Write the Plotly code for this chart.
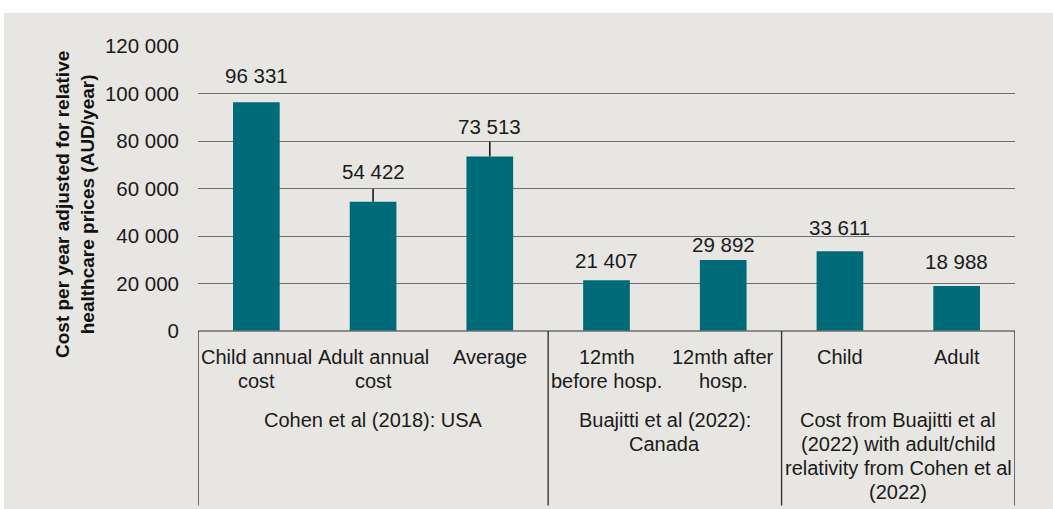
import plotly.graph_objects as go

# ---- data ----
categories = ["Child annual<br>cost", "Adult annual<br>cost", "Average",
              "12mth<br>before hosp.", "12mth after<br>hosp.", "Child", "Adult"]
values = [96331, 54422, 73513, 21407, 29892, 33611, 18988]
leader_extra = [0, 5400, 6200, 0, 0, 0, 0]
groups = ["Cohen et al (2018): USA",
          "Buajitti et al (2022):<br>Canada",
          "Cost from Buajitti et al<br>(2022) with adult/child<br>relativity from Cohen et al<br>(2022)"]
group_span = [(0, 2), (3, 4), (5, 6)]
y_ticks = [0, 20000, 40000, 60000, 80000, 100000, 120000]
label_lift = [27, 30, 30, 20, 16, 24, 24]

# ---- layout geometry (pixels) ----
W, H = 1053, 509
L, R, T, B = 198, 1015, 46, 331
BG = "#E8E6E2"
BAR = "#006B78"
GRID = "#6E6E6A"
FONT = "Liberation Sans, Arial, sans-serif"
TXT = "#1a1a1a"
LINE_H = 24

def px2py(py):
    return (B - py) / (B - T)

def px2px(px):
    return (px - L) / (R - L)

idx = list(range(len(categories)))

fig = go.Figure()
fig.add_trace(go.Bar(
    x=idx, y=values, width=0.4,
    marker=dict(color=BAR, line=dict(width=0)),
    error_y=dict(type="data", array=leader_extra, symmetric=False, arrayminus=[0] * 7,
                 color=TXT, thickness=1.6, width=0),
    hoverinfo="skip",
))

annotations = []
# data labels
for i, v in enumerate(values):
    annotations.append(dict(
        x=i, y=v, xref="x", yref="y", text=f"{v:,}".replace(",", " "),
        showarrow=False, yanchor="middle", yshift=label_lift[i],
        font=dict(family=FONT, size=20.5, color=TXT)))

def add_lines(xc, text, first_center_px):
    for k, line in enumerate(text.split("<br>")):
        annotations.append(dict(
            x=xc, y=px2py(first_center_px + k * LINE_H), xref="x", yref="paper",
            text=line, showarrow=False, yanchor="middle", xanchor="center",
            font=dict(family=FONT, size=20, color=TXT)))

# category labels
for i, c in enumerate(categories):
    add_lines(i, c, 357)
# group labels
for g, (a, b) in zip(groups, group_span):
    add_lines((a + b) / 2, g, 420)

# y-axis title
annotations.append(dict(
    x=px2px(75), y=px2py(205), xref="paper", yref="paper",
    text="<b>Cost per year adjusted for relative<br>healthcare prices (AUD/year)</b>",
    showarrow=False, textangle=-90, xanchor="center", yanchor="middle", align="center",
    font=dict(family=FONT, size=19, color="#111111")))

shapes = [
    # gray background panel
    dict(type="rect", xref="paper", yref="paper", x0=px2px(4), x1=px2px(W + 5),
         y0=px2py(H + 5), y1=px2py(13), fillcolor=BG, line=dict(width=0), layer="below"),
    # x axis line
    dict(type="line", xref="paper", yref="paper", x0=0, x1=1, y0=0, y1=0,
         line=dict(color=GRID, width=1.5)),
]
for xd in [-0.5, 2.5, 4.5, 6.5]:
    shapes.append(dict(type="line", xref="x", yref="paper", x0=xd, x1=xd,
                       y0=0, y1=px2py(505.5), line=dict(color="#2a2a2a", width=1.3)))

fig.update_layout(
    width=W, height=H,
    margin=dict(l=L, r=W - R, t=T, b=H - B, pad=0),
    paper_bgcolor="white", plot_bgcolor=BG,
    separators=". ",
    showlegend=False,
    bargap=0.6,
    xaxis=dict(range=[-0.5, 6.5], showticklabels=False, showgrid=False, zeroline=False,
               showline=False, ticks="", fixedrange=True),
    yaxis=dict(range=[0, 120000], tickvals=y_ticks, tickformat=",d",
               showgrid=True, gridcolor=GRID, gridwidth=1.3, zeroline=False, showline=False,
               ticks="", ticklabelstandoff=18,
               tickfont=dict(family=FONT, size=20.5, color=TXT), fixedrange=True),
    annotations=annotations, shapes=shapes,
)

fig.write_html("out.html")
